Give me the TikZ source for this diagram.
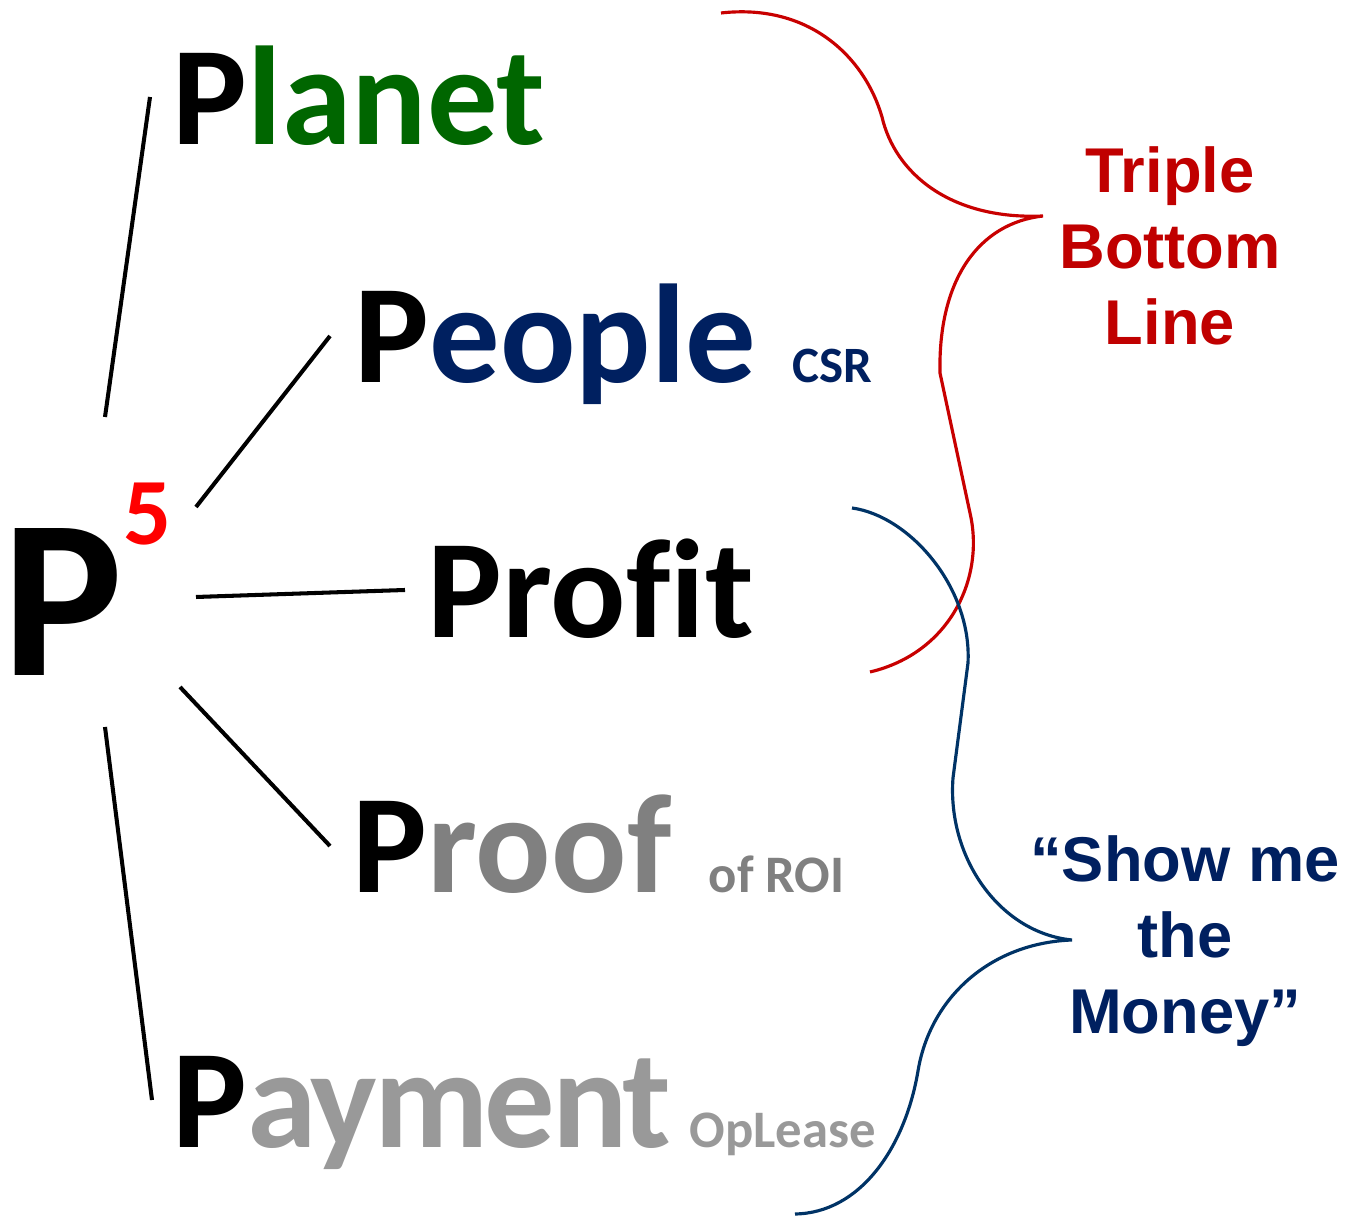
\documentclass[tikz,border=0pt]{standalone}
\usepackage{fontspec}
\newfontfamily\wordfont{Carlito}[Ligatures=NoCommon]
\newfontfamily\tblfont{Liberation Sans}
\definecolor{planetgreen}{RGB}{0,102,0}
\definecolor{peoplenavy}{RGB}{0,32,96}
\definecolor{proofgray}{RGB}{128,128,128}
\definecolor{paygray}{RGB}{153,153,153}
\definecolor{tblred}{RGB}{192,0,0}
\definecolor{bracered}{RGB}{200,0,0}
\definecolor{braceblue}{RGB}{0,51,102}
\begin{document}
\begin{tikzpicture}[
  word/.style={font=\wordfont\bfseries\fontsize{40}{44}\selectfont, anchor=base west, inner sep=0},
  note/.style={font=\wordfont\bfseries\fontsize{15}{17}\selectfont, anchor=base west, inner sep=0},
  slogan/.style={font=\tblfont\bfseries\fontsize{18}{21.6}\selectfont, align=center, inner sep=0},
  spoke/.style={line width=1.15pt},
  bracket/.style={line width=0.9pt}]
\useasboundingbox (0,0) rectangle (13.59,12.18);
\node[word, font=\wordfont\bfseries\fontsize{64.5}{66}\selectfont] (bigp) at (0.02,5.42) {P};
\node[word, font=\wordfont\bfseries\fontsize{27}{29}\selectfont, text=red] (five) at (1.23,6.73) {5};
\node[word] (planet) at (1.72,10.73) {P\textcolor{planetgreen}{lanet}};
\node[word] (people) at (3.54,8.35) {P\textcolor{peoplenavy}{eople}};
\node[note, text=peoplenavy, font=\wordfont\bfseries\fontsize{14.5}{17}\selectfont] (csr) at (7.92,8.35) {CSR};
\node[word] (profit) at (4.27,5.80) {Profit};
\node[word] (proof) at (3.52,3.25) {P\textcolor{proofgray}{roof}};
\node[note, text=proofgray] (roi) at (7.08,3.25) {of ROI};
\node[word, font=\wordfont\bfseries\fontsize{40}{44}\selectfont\addfontfeature{LetterSpace=-2.5}] (payment) at (1.72,0.70) {P\textcolor{paygray}{ayment}};
\node[note, text=paygray] (oplease) at (6.89,0.70) {OpLease};
\node[slogan, text=tblred] (tbl) at (11.70,9.72) {Triple\\Bottom\\Line};
\node[slogan, text=peoplenavy] (money) at (11.85,2.77) {“Show me\\the\\Money”};
% spokes
\coordinate (s1) at (1.05,8.01); \coordinate (e1) at (1.50,11.21);
\coordinate (s2) at (1.96,7.11); \coordinate (e2) at (3.30,8.82);
\coordinate (s3) at (1.96,6.21); \coordinate (e3) at (4.05,6.28);
\coordinate (s4) at (1.80,5.31); \coordinate (e4) at (3.30,3.72);
\coordinate (s5) at (1.05,4.91); \coordinate (e5) at (1.52,1.18);
\foreach \i in {1,...,5}
  \draw[spoke] (s\i) -- (e\i);
% braces
\coordinate (redtip) at (10.43,10.02);
\coordinate (bluetip) at (10.72,2.78);
\draw[bracket, bracered] (7.21,12.05) .. controls (8.1,12.15) and (8.65,11.6) .. (8.82,11.01)
  .. controls (8.95,10.45) and (9.5,9.98) .. (redtip)
  .. controls (9.8,9.95) and (9.38,9.4) .. (9.40,8.45)
  -- (9.70,7.05)
  .. controls (9.85,6.4) and (9.5,5.65) .. (8.70,5.46);
\draw[bracket, braceblue] (8.52,7.10) .. controls (9.1,7.02) and (9.72,6.3) .. (9.68,5.55)
  -- (9.53,4.40)
  .. controls (9.47,3.6) and (10.0,2.85) .. (bluetip)
  .. controls (9.9,2.75) and (9.3,2.2) .. (9.18,1.47)
  .. controls (9.05,0.7) and (8.6,0.05) .. (7.95,0.04);
\end{tikzpicture}
\end{document}
